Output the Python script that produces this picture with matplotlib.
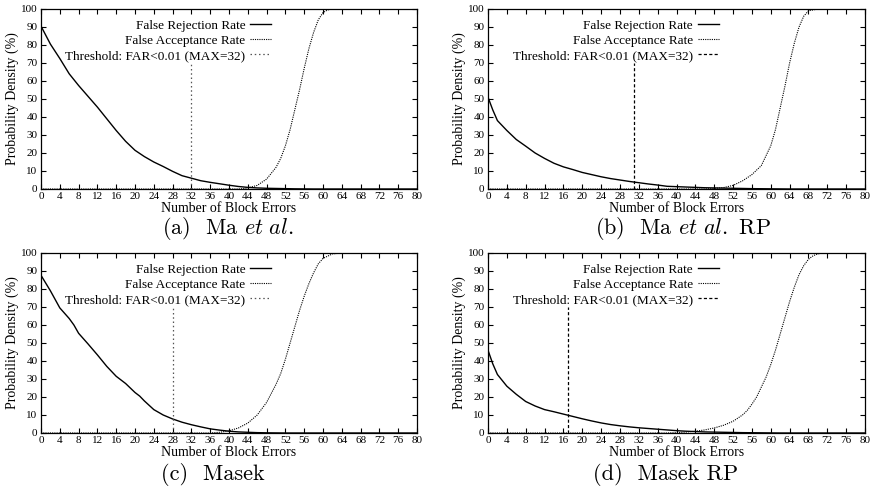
import matplotlib
matplotlib.use("Agg")
import matplotlib.pyplot as plt

plt.rcParams['font.family'] = ['Liberation Serif', 'DejaVu Serif']
plt.rcParams['mathtext.fontset'] = 'cm'

# ---- data (x = number of block errors, y = %) ----
frr_a_x = [0, 2, 4, 6, 8, 10, 12, 14, 16, 18, 20, 22, 24, 26, 28, 30, 32, 34, 36, 38,
           40, 42, 44, 46, 48, 50, 52, 54, 56, 58, 80]
frr_a_y = [90.5, 80.5, 72.5, 64, 57.5, 51.5, 45.5, 39, 32.5, 26.5, 21.5, 18, 15, 12.5, 9.8, 7.4,
           6, 4.6, 3.7, 2.9, 2.1, 1.4, 0.9, 0.6, 0.4, 0.3, 0.2, 0.1, 0.05, 0, 0]
far_a_x = [0, 42, 43, 44, 46, 48, 50, 51, 52, 53, 54, 55, 56, 57, 58, 59, 60, 61, 62, 80]
far_a_y = [0, 0, 0.2, 0.6, 2, 5.5, 12, 17, 24, 33, 44, 55, 67, 78, 87, 94, 98, 99.5, 100, 100]

frr_b_x = [0, 1, 2, 4, 6, 8, 10, 12, 14, 16, 18, 20, 22, 24, 26, 28, 30, 32, 34, 36, 38,
           40, 42, 44, 46, 48, 50, 52, 54, 56, 58, 60, 62, 64, 80]
frr_b_y = [51, 44, 38, 32.5, 27.5, 23.8, 20, 17, 14.3, 12.3, 10.8, 9.2, 8, 6.8, 5.8, 5, 4.2,
           3.5, 2.8, 2.2, 1.5, 1.3, 1.1, 0.9, 0.7, 0.6, 0.5, 0.4, 0.3, 0.2, 0.15, 0.1, 0.05, 0, 0]
far_b_x = [0, 46, 48, 50, 52, 54, 56, 58, 60, 61, 62, 63, 64, 65, 66, 67, 68, 70, 80]
far_b_y = [0, 0, 0.3, 0.8, 2, 4.5, 8, 13, 24, 33, 45, 57, 70, 81, 90, 96, 99, 100, 100]

frr_c_x = [0, 2, 4, 6, 7, 8, 10, 12, 14, 16, 18, 20, 21, 22, 24, 26, 28, 30, 32, 34, 36,
           38, 40, 42, 44, 46, 48, 50, 52, 80]
frr_c_y = [87.6, 79, 69.5, 63.6, 60, 55.4, 49.5, 43.4, 37, 31.5, 27.5, 22.5, 20.5, 17.8, 13,
           10, 7.8, 6, 4.6, 3.4, 2.3, 1.6, 1.0, 0.6, 0.4, 0.2, 0.1, 0.05, 0, 0]
far_c_x = [0, 36, 38, 40, 42, 44, 46, 48, 50, 51, 52, 53, 54, 55, 56, 57, 58, 59, 60, 62, 64, 80]
far_c_y = [0, 0, 0.4, 1.2, 2.8, 5.5, 10, 17, 27, 33, 41, 50, 59, 68, 76, 83, 89, 94, 97, 99.5,
           100, 100]

frr_d_x = [0, 1, 2, 4, 6, 8, 10, 12, 14, 16, 18, 20, 22, 24, 26, 28, 30, 32, 34, 36, 38,
           40, 42, 44, 46, 48, 50, 52, 54, 56, 58, 60, 62, 80]
frr_d_y = [46, 38.5, 32.5, 26, 21.5, 17.5, 15, 13, 11.8, 10.5, 9.2, 7.9, 6.7, 5.6, 4.7, 4,
           3.4, 2.9, 2.5, 2.1, 1.7, 1.3, 1, 0.8, 0.6, 0.5, 0.4, 0.3, 0.2, 0.15, 0.1, 0.05, 0, 0]
far_d_x = [0, 38, 40, 42, 44, 46, 48, 50, 52, 54, 55, 56, 57, 58, 59, 60, 61, 62, 63, 64, 65,
           66, 67, 68, 69, 70, 71, 72, 80]
far_d_y = [0, 0, 0.2, 0.5, 1, 1.7, 2.8, 4.3, 6.5, 10, 12.5, 16, 20, 25.5, 31, 38, 46, 55, 64, 73,
           81, 88, 93, 96.5, 98.5, 99.5, 100, 100, 100]

thresholds = [32, 31, 28, 17]
thr_top = 70
captions = [r"(a)  Ma $\mathit{et\ al.}$", r"(b)  Ma $\mathit{et\ al.}$ RP",
            "(c)  Masek", "(d)  Masek RP"]
x_ticks = list(range(0, 81, 4))
y_ticks = list(range(0, 101, 10))

panels = [(frr_a_x, frr_a_y, far_a_x, far_a_y),
          (frr_b_x, frr_b_y, far_b_x, far_b_y),
          (frr_c_x, frr_c_y, far_c_x, far_c_y),
          (frr_d_x, frr_d_y, far_d_x, far_d_y)]

W, H = 873, 499
# axes boxes in pixels: left, top, right, bottom
boxes = [(41, 9, 417, 189), (488, 9, 865, 189), (41, 253, 417, 433), (488, 253, 865, 433)]
cap_pos = [(228, 229), (683, 229), (213, 474), (666, 474)]
thr_style = [((0, (1.2, 2.2)), '#555555'), ((0, (2.5, 1.8)), 'black'),
             ((0, (1.2, 2.2)), '#555555'), ((0, (2.5, 1.8)), 'black')]

fig = plt.figure(figsize=(W / 100, H / 100), dpi=100)

for i in range(4):
    l, t, r, b = boxes[i]
    ax = fig.add_axes([l / W, 1 - b / H, (r - l) / W, (b - t) / H])
    fx, fy, ax_x, ax_y = panels[i]
    ax.plot(fx, fy, color='black', lw=1.0, label='False Rejection Rate')
    ax.plot(ax_x, ax_y, color='black', lw=0.8, linestyle=(0, (1, 1)),
            label='False Acceptance Rate')
    ls, col = thr_style[i]
    ax.plot([thresholds[i], thresholds[i]], [0, thr_top], color=col, lw=0.9, linestyle=ls,
            label='Threshold: FAR<0.01 (MAX=32)')
    ax.set_xlim(0, 80)
    ax.set_ylim(0, 100)
    ax.set_xticks(x_ticks)
    ax.set_yticks(y_ticks)
    ax.tick_params(direction='in', top=True, right=True, length=3.5, width=0.8,
                   labelsize=8, pad=2.5)
    for s in ax.spines.values():
        s.set_linewidth(0.9)
    ax.set_xlabel('Number of Block Errors', fontsize=10, labelpad=0.5)
    ax.set_ylabel('Probability Density (%)', fontsize=10, labelpad=1.5)
    ax.legend(loc='upper right', bbox_to_anchor=(0.64, 1.0), frameon=False, fontsize=9.5,
              markerfirst=False, handlelength=1.6, handletextpad=0.35, labelspacing=0.22,
              borderaxespad=0.5, borderpad=0.3)
    cx, cy = cap_pos[i]
    fig.text(cx / W, 1 - cy / H, captions[i], family='cmr10', fontsize=16,
             ha='center', va='center')

fig.savefig('out.png', dpi=100)
